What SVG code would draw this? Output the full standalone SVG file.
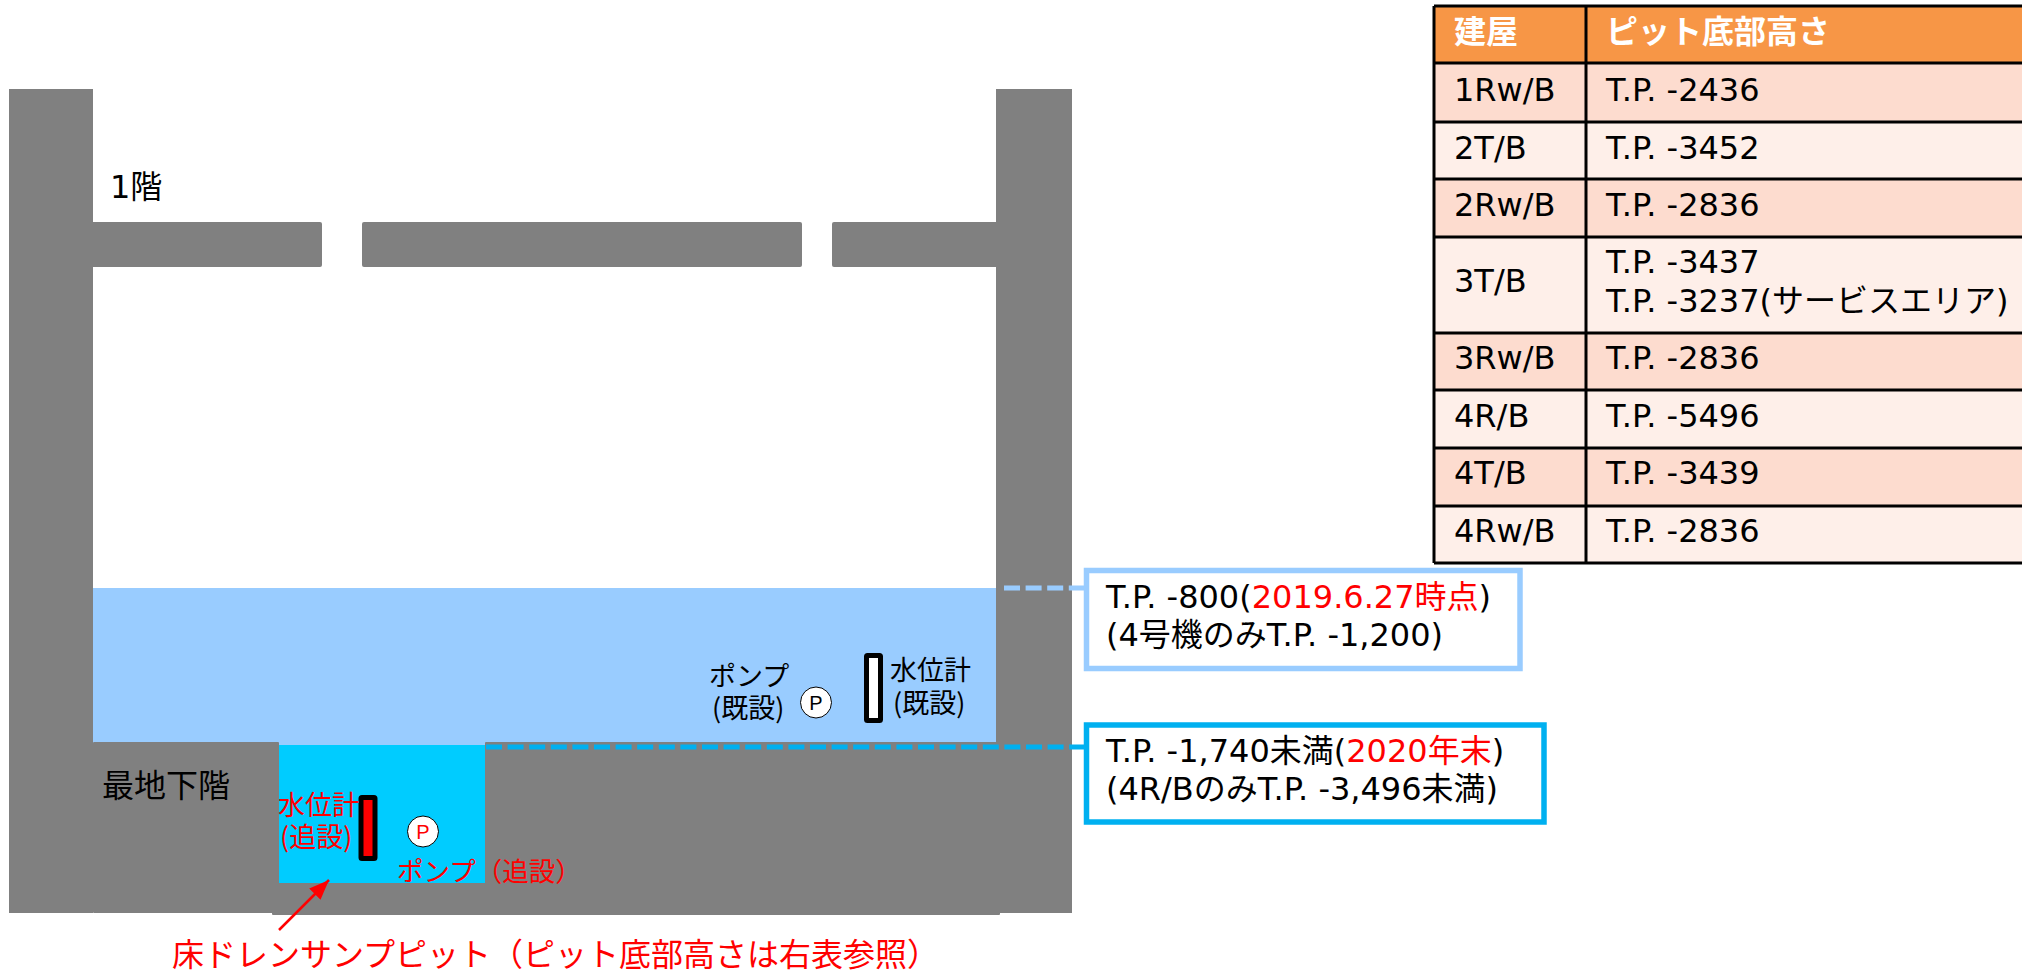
<svg xmlns="http://www.w3.org/2000/svg" width="2022" height="971" viewBox="0 0 2022 971">
<style>
text{font-family:"DejaVu Sans","Noto Sans CJK JP",sans-serif;font-size:32px;fill:#000}
.r,.r tspan{fill:#f00}
.j{font-family:"Noto Sans CJK JP","DejaVu Sans",sans-serif}
.s{font-size:27px}
.wall{fill:#808080}
.tb{stroke:#000;stroke-width:3;fill:none}
.h{fill:#fff;font-weight:700}
.p{font-family:"Liberation Sans",sans-serif;font-size:20px;text-anchor:middle}
.c{fill:#fff;stroke-width:5.5}
.d{stroke-width:5;stroke-dasharray:16 5.6;fill:none}
</style>
<defs><marker id="ah" markerWidth="20" markerHeight="16" refX="20" refY="8" orient="auto" markerUnits="userSpaceOnUse"><path d="M0 0L20 8L0 16z" fill="#f00"/></marker></defs>
<g id="building">
<rect class="wall" x="9" y="89" width="84" height="824"/>
<rect class="wall" x="996" y="89" width="76" height="824"/>
<rect class="wall" x="90" y="222" width="232" height="45" rx="2"/>
<rect class="wall" x="362" y="222" width="440" height="45" rx="2"/>
<rect class="wall" x="832" y="222" width="168" height="45" rx="2"/>
<rect x="93" y="588" width="903" height="158" fill="#99ccff"/>
<rect class="wall" x="93" y="742" width="186" height="171" rx="1"/>
<rect class="wall" x="272" y="883" width="728" height="32" rx="1"/>
<rect class="wall" x="485" y="742" width="587" height="171" rx="1"/>
<rect x="279" y="745" width="206" height="138" fill="#00ccff"/>
</g>
<g id="connectors">
<line class="d" x1="1004" y1="588" x2="1092" y2="588" stroke="#99ccff"/>
<line class="d" x1="486" y1="747" x2="1092" y2="747" stroke="#00b0f0"/>
<line x1="279" y1="930" x2="329" y2="880" stroke="#f00" stroke-width="2.5" marker-end="url(#ah)"/>
</g>
<g id="label-1f"><text x="110" y="198">1階</text></g>
<g id="label-bf"><text class="j" x="102" y="797">最地下階</text></g>
<g id="pump-old">
<circle cx="816" cy="702.5" r="15.5" fill="#fff" stroke="#000" stroke-width="1"/>
<text class="p" x="816" y="710">P</text>
<text class="j s" x="709" y="686">ポンプ</text>
<text class="j s" x="712" y="718">(既設)</text>
</g>
<g id="gauge-old">
<rect x="866.5" y="655.5" width="14" height="65" fill="#fff" stroke="#000" stroke-width="5" rx="1"/>
<text class="j s" x="890" y="680">水位計</text>
<text class="j s" x="893" y="713">(既設)</text>
</g>
<g id="gauge-new">
<rect x="361" y="797.5" width="14" height="61" fill="#f00" stroke="#000" stroke-width="5" rx="1"/>
<text class="j s r" x="278" y="815">水位計</text>
<text class="j s r" x="280" y="847">(追設)</text>
</g>
<g id="pump-new">
<circle cx="423" cy="831.5" r="15.5" fill="#fff" stroke="#000" stroke-width="1"/>
<text class="p r" x="423" y="839">P</text>
<text class="j r" x="397" y="881" style="font-size:26.5px">ポンプ（追設）</text>
</g>
<g id="pit-label"><text class="j r" x="172" y="966">床ドレンサンプピット（ピット底部高さは右表参照）</text></g>
<g id="callout-1">
<rect class="c" x="1086.5" y="570.5" width="433.5" height="98" stroke="#99ccff"/>
<text x="1106" y="608">T.P. -800(<tspan class="r">2019.6.27時点</tspan>)</text>
<text x="1106" y="646">(4号機のみT.P. -1,200)</text>
</g>
<g id="callout-2">
<rect class="c" x="1086.5" y="725" width="457.5" height="97" stroke="#00b0f0"/>
<text x="1106" y="762">T.P. -1,740未満(<tspan class="r">2020年末</tspan>)</text>
<text x="1106" y="800">(4R/BのみT.P. -3,496未満)</text>
</g>
<g id="table">
<rect x="1434" y="6" width="600" height="57" fill="#f79646"/>
<rect x="1434" y="63" width="600" height="59" fill="#fddccf"/>
<rect x="1434" y="122" width="600" height="57" fill="#feefe9"/>
<rect x="1434" y="179" width="600" height="58" fill="#fddccf"/>
<rect x="1434" y="237" width="600" height="96" fill="#feefe9"/>
<rect x="1434" y="333" width="600" height="57" fill="#fddccf"/>
<rect x="1434" y="390" width="600" height="58" fill="#feefe9"/>
<rect x="1434" y="448" width="600" height="58" fill="#fddccf"/>
<rect x="1434" y="506" width="600" height="57" fill="#feefe9"/>
<path class="tb" d="M1434 6H2034M1434 63H2034M1434 122H2034M1434 179H2034M1434 237H2034M1434 333H2034M1434 390H2034M1434 448H2034M1434 506H2034M1434 563H2034M1434 6V563M1586 6V563"/>
<g id="cells">
<text class="j h" x="1454" y="43">建屋</text>
<text class="j h" x="1606" y="43">ピット底部高さ</text>
<text x="1454" y="101">1Rw/B</text><text x="1606" y="101">T.P. -2436</text>
<text x="1454" y="159">2T/B</text><text x="1606" y="159">T.P. -3452</text>
<text x="1454" y="216">2Rw/B</text><text x="1606" y="216">T.P. -2836</text>
<text x="1454" y="292">3T/B</text><text x="1606" y="273">T.P. -3437</text>
<text x="1606" y="312">T.P. -3237(サービスエリア)</text>
<text x="1454" y="369">3Rw/B</text><text x="1606" y="369">T.P. -2836</text>
<text x="1454" y="427">4R/B</text><text x="1606" y="427">T.P. -5496</text>
<text x="1454" y="484">4T/B</text><text x="1606" y="484">T.P. -3439</text>
<text x="1454" y="542">4Rw/B</text><text x="1606" y="542">T.P. -2836</text>
</g>
</g>
</svg>
